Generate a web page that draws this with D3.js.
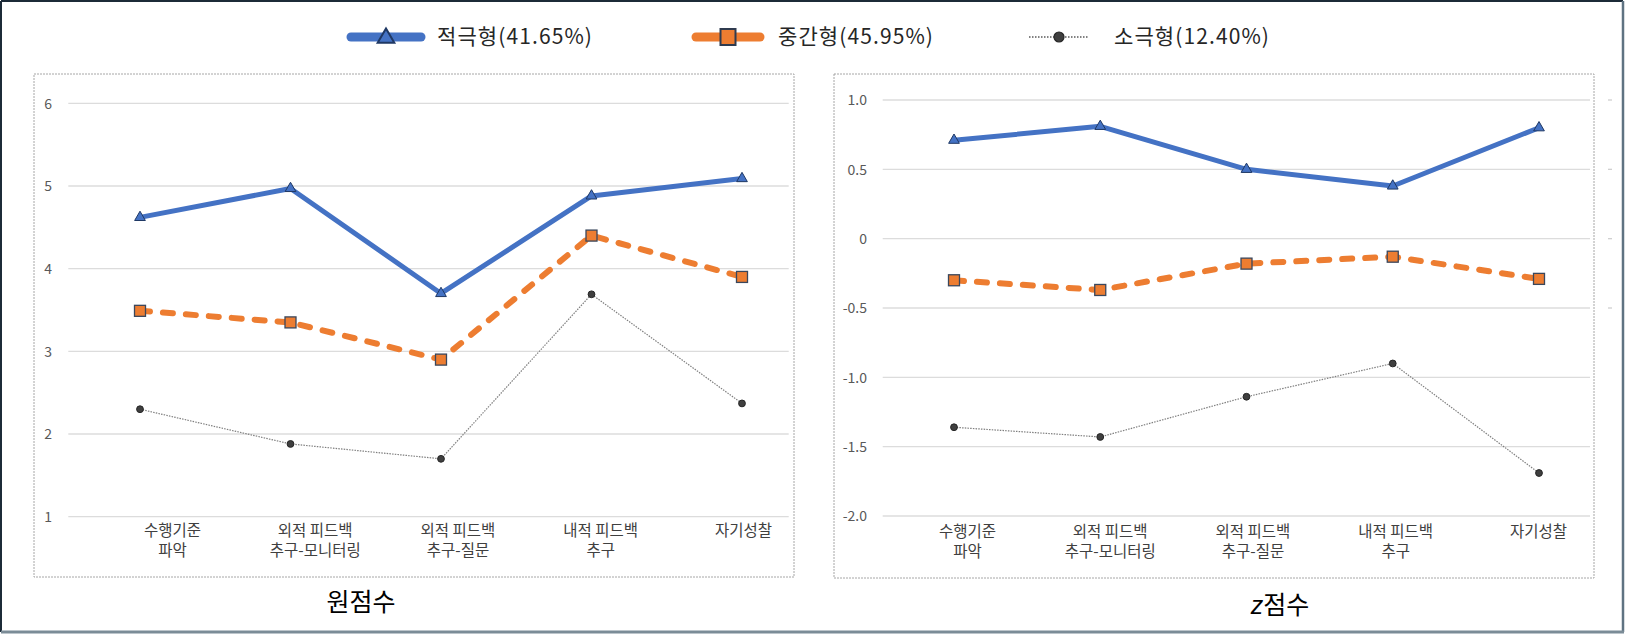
<!DOCTYPE html>
<html><head><meta charset="utf-8">
<script src="https://cdn.jsdelivr.net/npm/d3@7"></script>
<style>
html,body{margin:0;padding:0;background:#fff;}
svg text{font-family:"Noto Sans CJK KR","Noto Sans",sans-serif;}
</style></head>
<body><svg id="c" width="1625" height="634"></svg>
<script>
// ---- data ----
const categories = ["수행기준 파악", "외적 피드백 추구-모니터링", "외적 피드백 추구-질문", "내적 피드백 추구", "자기성찰"];
const categoryLines = [["수행기준", "파악"], ["외적 피드백", "추구-모니터링"], ["외적 피드백", "추구-질문"], ["내적 피드백", "추구"], ["자기성찰"]];
const seriesNames = ["적극형(41.65%)", "중간형(45.95%)", "소극형(12.40%)"];
const rawActive  = [4.62, 4.97, 3.70, 4.88, 5.09];
const rawMiddle  = [3.49, 3.35, 2.90, 4.40, 3.90];
const rawPassive = [2.30, 1.88, 1.70, 3.69, 2.37];
const zActive  = [0.71, 0.81, 0.50, 0.38, 0.80];
const zMiddle  = [-0.30, -0.37, -0.18, -0.13, -0.29];
const zPassive = [-1.36, -1.43, -1.14, -0.90, -1.69];
const rawTicks = [1, 2, 3, 4, 5, 6];
const rawTickLabels = ["1", "2", "3", "4", "5", "6"];
const zTicks = [-2.0, -1.5, -1.0, -0.5, 0, 0.5, 1.0];
const zTickLabels = ["-2.0", "-1.5", "-1.0", "-0.5", "0", "0.5", "1.0"];
const panelTitles = ["원점수", "점수"];

// ---- styles ----
const colors = ["#4472C4", "#ED7D31", "#404040"];
const svg = d3.select("#c");

// outer frame
svg.append("line").attr("x1",1).attr("y1",1).attr("x2",1623).attr("y2",1).attr("stroke","#1c2b38").attr("stroke-width",2);
svg.append("line").attr("x1",1).attr("y1",1).attr("x2",1).attr("y2",632).attr("stroke","#1c2b38").attr("stroke-width",2);
svg.append("line").attr("x1",1623).attr("y1",1).attr("x2",1623).attr("y2",632).attr("stroke","#5f7382").attr("stroke-width",2.5);
svg.append("line").attr("x1",1).attr("y1",632).attr("x2",1624).attr("y2",632).attr("stroke","#7b8c97").attr("stroke-width",3);

const panels = [
  {box:[34,74,794,577], grid:[68.3,788.7], yr:[516.7,103.3], dom:[1,6], ticks:rawTicks, tickLabels:rawTickLabels,
   labelX:52, pts:[140,742], lab:[172,743], series:[rawActive, rawMiddle, rawPassive], title:panelTitles[0], titleX:361, titleY:611, italicZ:false},
  {box:[834,74,1594,578], grid:[882.7,1590], yr:[516,100], dom:[-2,1], ticks:zTicks, tickLabels:zTickLabels,
   labelX:867, pts:[954,1539], lab:[967,1538], series:[zActive, zMiddle, zPassive], title:panelTitles[1], titleX:1280, titleY:614, italicZ:true}
];

panels.forEach((p, pi) => {
  const g = svg.append("g");
  g.append("rect").attr("x",p.box[0]).attr("y",p.box[1]).attr("width",p.box[2]-p.box[0]).attr("height",p.box[3]-p.box[1])
    .attr("fill","none").attr("stroke","#a6a6a6").attr("stroke-width",1).attr("stroke-dasharray","2,1");
  const y = d3.scaleLinear().domain(p.dom).range(p.yr);
  const x = d3.scalePoint().domain(categories).range(p.pts);
  const xl = d3.scalePoint().domain(categories).range(p.lab);

  // gridlines
  g.selectAll(".grid").data(p.ticks).join("line")
    .attr("x1",p.grid[0]).attr("x2",p.grid[1]).attr("y1",d=>y(d)).attr("y2",d=>y(d))
    .attr("stroke","#dcdcdc").attr("stroke-width",1.3);
  if (pi === 1) {
    g.selectAll(".stub").data(p.ticks.filter(d=>d>=-0.5)).join("line")
      .attr("x1",1608).attr("x2",1612).attr("y1",d=>y(d)).attr("y2",d=>y(d))
      .attr("stroke","#d0d0d0").attr("stroke-width",1.3);
  }

  // y axis
  const ya = d3.axisLeft(y).tickValues(p.ticks).tickSize(0).tickPadding(0)
    .tickFormat((d,i)=>p.tickLabels[i]);
  const yg = g.append("g").attr("transform",`translate(${p.labelX},0)`).call(ya);
  yg.select(".domain").remove();
  yg.selectAll("text").attr("fill","#595959").attr("font-size",14).attr("dy","0.35em");

  // x axis labels
  const xa = d3.axisBottom(xl).tickSize(0).tickFormat("");
  const xg = g.append("g").attr("transform",`translate(0,${p.box[3]-50})`).call(xa);
  xg.select(".domain").remove();
  xg.selectAll(".tick").each(function(d,i){
    const t = d3.select(this).append("text").attr("text-anchor","middle").attr("fill","#404040").attr("font-size",15.5);
    categoryLines[i].forEach((ln,k)=>{
      t.append("tspan").attr("x",0).attr("y",k*20+4).attr("dy","0.35em").text(ln);
    });
  });

  // lines
  const line = d3.line().x((d,i)=>x(categories[i])).y(d=>y(d));
  g.append("path").attr("d",line(p.series[2])).attr("fill","none").attr("stroke","#7f7f7f")
    .attr("stroke-width",1.2).attr("stroke-dasharray","1.5,1.2");
  g.append("path").attr("d",line(p.series[1])).attr("fill","none").attr("stroke",colors[1])
    .attr("stroke-width",6).attr("stroke-linecap","round").attr("stroke-dasharray","10,13");
  g.append("path").attr("d",line(p.series[0])).attr("fill","none").attr("stroke",colors[0])
    .attr("stroke-width",5).attr("stroke-linejoin","round");

  // markers
  g.selectAll(".mc").data(p.series[2]).join("circle")
    .attr("cx",(d,i)=>x(categories[i])).attr("cy",d=>y(d)).attr("r",3.4)
    .attr("fill","#3f3f3f").attr("stroke","#262626").attr("stroke-width",1);
  g.selectAll(".ms").data(p.series[1]).join("rect")
    .attr("x",(d,i)=>x(categories[i])-5.5).attr("y",d=>y(d)-5.5).attr("width",11).attr("height",11)
    .attr("fill",colors[1]).attr("stroke","#3a475c").attr("stroke-width",1.3);
  g.selectAll(".mt").data(p.series[0]).join("path")
    .attr("d",d3.symbol(d3.symbolTriangle,50))
    .attr("transform",(d,i)=>`translate(${x(categories[i])},${y(d)})`)
    .attr("fill",colors[0]).attr("stroke","#1f3864").attr("stroke-width",1);

  // title
  const tt = svg.append("text").attr("x",p.titleX).attr("y",p.titleY).attr("text-anchor","middle")
    .attr("font-size",25).attr("fill","#000");
  if (p.italicZ) {
    tt.append("tspan").attr("font-style","italic").attr("font-family","'Liberation Sans',sans-serif").text("z");
  }
  tt.append("tspan").text(p.title);
});

// legend
const legendX = [[351,421,437],[696,760,778],[1029,1089,1114]];
const ly = 37;
const lg = svg.append("g");
seriesNames.forEach((name,i)=>{
  const [a,b,tx] = legendX[i];
  const cx = (a+b)/2;
  if (i===0) {
    lg.append("line").attr("x1",a).attr("x2",b).attr("y1",ly).attr("y2",ly).attr("stroke",colors[0]).attr("stroke-width",9).attr("stroke-linecap","round");
    lg.append("path").attr("d",d3.symbol(d3.symbolTriangle,120)).attr("transform",`translate(${cx},${ly+1})`)
      .attr("fill",colors[0]).attr("stroke","#1f3864").attr("stroke-width",2);
  } else if (i===1) {
    lg.append("line").attr("x1",a).attr("x2",b).attr("y1",ly).attr("y2",ly).attr("stroke",colors[1]).attr("stroke-width",9).attr("stroke-linecap","round");
    lg.append("rect").attr("x",cx-7.5).attr("y",ly-8).attr("width",15).attr("height",16)
      .attr("fill",colors[1]).attr("stroke","#2f3b4f").attr("stroke-width",2);
  } else {
    lg.append("line").attr("x1",a).attr("x2",b).attr("y1",ly).attr("y2",ly).attr("stroke","#595959").attr("stroke-width",1.5).attr("stroke-dasharray","1.5,1.5");
    lg.append("circle").attr("cx",cx).attr("cy",ly).attr("r",5).attr("fill","#3f3f3f").attr("stroke","#262626").attr("stroke-width",1.2);
  }
  lg.append("text").attr("x",tx).attr("y",ly).attr("dy","0.35em").attr("font-size",21).attr("letter-spacing","1.1px").attr("fill","#262626").text(name);
});
</script></body></html>
